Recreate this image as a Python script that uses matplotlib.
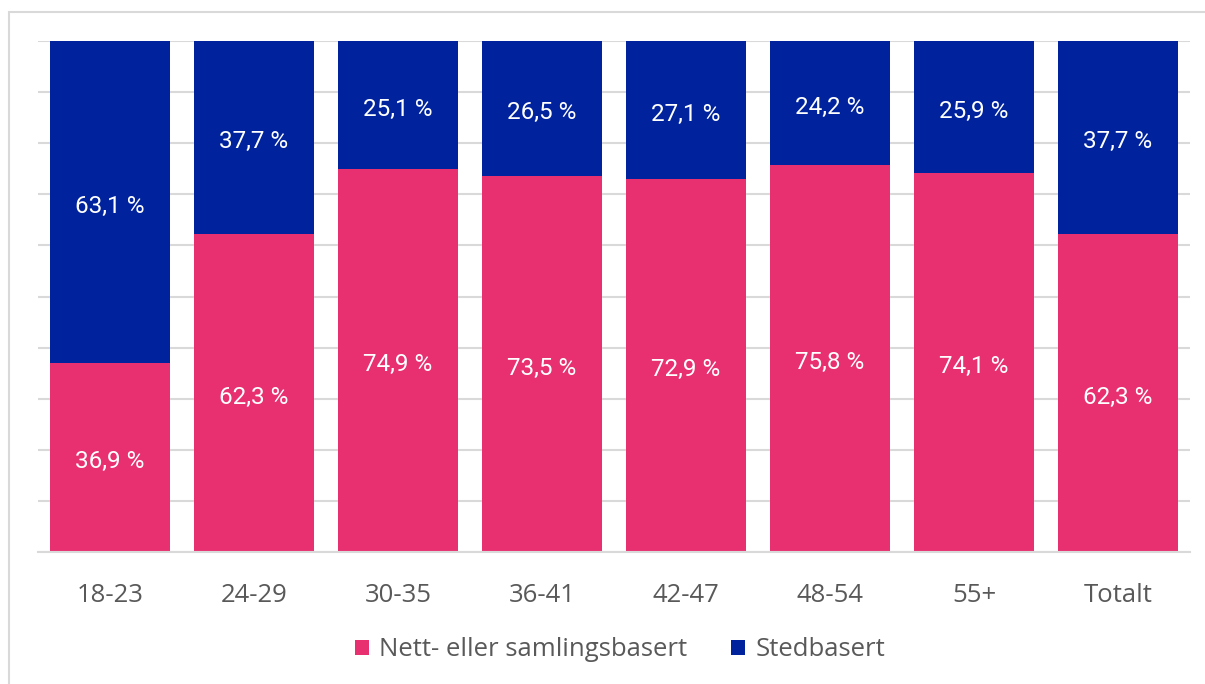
import matplotlib.pyplot as plt
from matplotlib.patches import Rectangle
import numpy as np

categories = ["18-23", "24-29", "30-35", "36-41", "42-47", "48-54", "55+", "Totalt"]
nett = [36.9, 62.3, 74.9, 73.5, 72.9, 75.8, 74.1, 62.3]
sted = [63.1, 37.7, 25.1, 26.5, 27.1, 24.2, 25.9, 37.7]
series_names = ["Nett- eller samlingsbasert", "Stedbasert"]

PINK = "#E83070"
BLUE = "#00239D"
GRID = "#D9D9D9"
TXT = "#595959"

fig = plt.figure(figsize=(12.05, 6.84), dpi=100)
ax = fig.add_axes([38 / 1205, 1 - 552 / 684, 1152 / 1205, 511 / 684])

x = np.arange(len(categories))
b1 = ax.bar(x, nett, width=0.833, color=PINK, zorder=2, label=series_names[0])
b2 = ax.bar(x, sted, width=0.833, bottom=nett, color=BLUE, zorder=2, label=series_names[1])

def fmt(v):
    return f"{v:.1f}".replace(".", ",") + " %"

for i in range(len(categories)):
    for y, v in [(nett[i] / 2, nett[i]), (nett[i] + sted[i] / 2, sted[i])]:
        ax.annotate(fmt(v), (x[i], y), xytext=(0, -3), textcoords="offset points",
                    ha="center", va="center", color="white", fontsize=17.5,
                    family="Roboto", zorder=3)

ax.set_xlim(-0.5, len(categories) - 0.5)
ax.set_ylim(0, 100)
ax.set_yticks(np.arange(0, 101, 10))
ax.yaxis.grid(True, color=GRID, linewidth=1.5, zorder=0)
ax.tick_params(axis="y", length=0, labelleft=False)
ax.tick_params(axis="x", length=0, pad=22, labelsize=18.5, labelcolor=TXT)
ax.set_xticks(x)
ax.set_xticklabels(categories, family="Open Sans")
for s in ["top", "right", "left"]:
    ax.spines[s].set_visible(False)
ax.spines["bottom"].set_color(GRID)
ax.spines["bottom"].set_linewidth(1.5)

fig.legend(handles=[b1, b2], loc="center", bbox_to_anchor=(620 / 1205, 1 - 650 / 684),
           ncol=2, frameon=False, handlelength=0.55, handleheight=0.55,
           handletextpad=0.4, columnspacing=1.7,
           prop={"family": "Open Sans", "size": 18.5}, labelcolor=TXT)

fig.patches.append(Rectangle((9 / 1205, -0.05), 1.2, 1.05 - 12 / 684, transform=fig.transFigure,
                             fill=False, edgecolor=GRID, linewidth=1.5))

fig.savefig("out.png", dpi=100)
